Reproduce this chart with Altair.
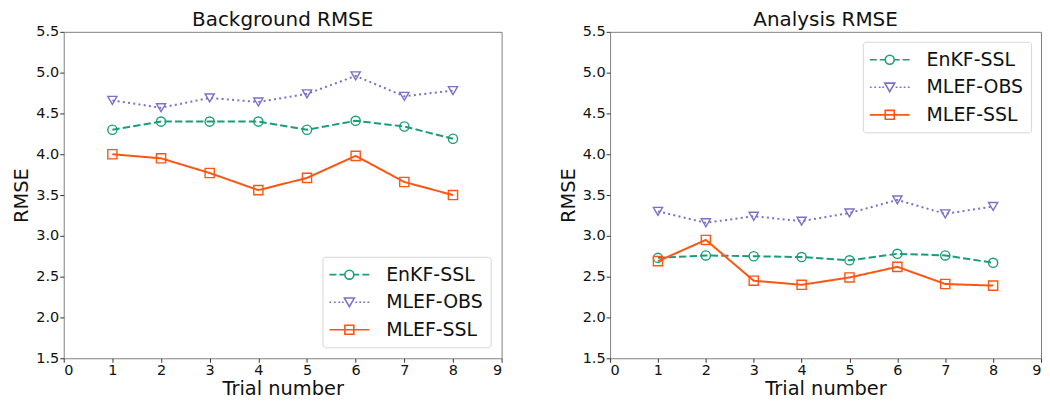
import altair as alt
import pandas as pd

trials = [1, 2, 3, 4, 5, 6, 7, 8]
series_names = ["EnKF-SSL", "MLEF-OBS", "MLEF-SSL"]

bg_enkf_ssl = [4.30, 4.40, 4.40, 4.40, 4.30, 4.41, 4.34, 4.19]
bg_mlef_obs = [4.66, 4.57, 4.69, 4.64, 4.74, 4.96, 4.71, 4.78]
bg_mlef_ssl = [4.00, 3.95, 3.77, 3.56, 3.71, 3.98, 3.66, 3.50]

an_enkf_ssl = [2.73, 2.76, 2.75, 2.74, 2.70, 2.78, 2.76, 2.67]
an_mlef_obs = [3.30, 3.16, 3.24, 3.18, 3.28, 3.44, 3.27, 3.36]
an_mlef_ssl = [2.69, 2.95, 2.45, 2.40, 2.49, 2.62, 2.41, 2.39]

x_ticks = [0, 1, 2, 3, 4, 5, 6, 7, 8, 9]
y_ticks = [1.5, 2.0, 2.5, 3.0, 3.5, 4.0, 4.5, 5.0, 5.5]

colors = ["#1b9e77", "#7a70c8", "#ff5512"]
dashes = [[7.4, 3.2], [2, 3.3], [1, 0]]
shapes = ["circle", "triangle-down", "square"]

FONT = "DejaVu Sans"


def long_df(a, b, c):
    rows = []
    for name, vals in zip(series_names, [a, b, c]):
        for t, v in zip(trials, vals):
            rows.append({"trial": t, "series": name, "rmse": v})
    return pd.DataFrame(rows)


# legend symbols: line sample + hollow marker (custom paths, unit = 10px)
circ = "M0.45,0 A0.45,0.45 0 1,1 -0.45,0 A0.45,0.45 0 1,1 0.45,0 Z"
tri = "M-0.5,-0.42 L0.5,-0.42 L0,0.45 Z"
sq = "M-0.45,-0.45 H0.45 V0.45 H-0.45 Z"
dash_line = "M-2,0 H-1.3 M-1.0,0 H-0.45 M0.45,0 H1.0 M1.3,0 H2 "
dot_line = " ".join(f"M{x:.2f},0 H{x + 0.18:.2f}" for x in [-2.0, -1.55, -1.1, -0.75, 0.6, 1.0, 1.4, 1.82])
solid_line = "M-2,0 H2 "
legend_paths = [dash_line + circ, dot_line + " " + tri, solid_line + sq]


def panel(df, title, orient, offset, width):
    color_scale = alt.Scale(domain=series_names, range=colors)
    legend = alt.Legend(
        title=None,
        orient=orient,
        offset=offset,
        labelFont=FONT,
        labelFontSize=19,
        labelColor="#111111",
        symbolSize=400,
        symbolStrokeWidth=1.6,
        symbolOpacity=1,
        symbolFillColor="transparent",
        symbolOffset=9,
        labelOffset=26,
        rowPadding=6.7,
        padding=7,
        fillColor="white",
        strokeColor="#d6d6d6",
        cornerRadius=3,
    )
    x = alt.X("trial:Q", scale=alt.Scale(domain=[0, 9], nice=False),
              axis=alt.Axis(values=x_ticks, title="Trial number", format="d"))
    y = alt.Y("rmse:Q", scale=alt.Scale(domain=[1.5, 5.5], nice=False, zero=False),
              axis=alt.Axis(values=y_ticks, title="RMSE", format=".1f"))
    base = alt.Chart(df)
    lines = base.mark_line(strokeWidth=2).encode(
        x=x, y=y,
        color=alt.Color("series:N", scale=color_scale, legend=None),
        strokeDash=alt.StrokeDash("series:N",
                                  scale=alt.Scale(domain=series_names, range=dashes),
                                  legend=None),
        detail="series:N",
    )
    points = base.mark_point(filled=False, size=85, strokeWidth=1.4, opacity=1).encode(
        x=x, y=y,
        color=alt.Color("series:N", scale=color_scale, legend=None),
        shape=alt.Shape("series:N", scale=alt.Scale(domain=series_names, range=shapes),
                        legend=None),
    )
    legend_layer = base.mark_point(filled=False, opacity=0, size=1).encode(
        x=x, y=y,
        color=alt.Color("series:N", scale=color_scale, legend=legend),
        shape=alt.Shape("series:N",
                        scale=alt.Scale(domain=series_names, range=legend_paths),
                        legend=legend),
    )
    return alt.layer(lines, points, legend_layer).resolve_scale(
        shape="independent", color="independent"
    ).properties(
        width=width, height=328,
        title=alt.TitleParams(title, font=FONT, fontSize=20, fontWeight="normal",
                              color="#111111", offset=-6),
    )


left = panel(long_df(bg_enkf_ssl, bg_mlef_obs, bg_mlef_ssl), "Background RMSE",
             "bottom-right", 11, 440)
right = panel(long_df(an_enkf_ssl, an_mlef_obs, an_mlef_ssl), "Analysis RMSE",
              "top-right", 10, 433)

chart = alt.hconcat(left, right, spacing=55).resolve_scale(
    color="independent", shape="independent", strokeDash="independent"
).properties(padding={"left": 3, "top": 0, "right": 0, "bottom": 0}).configure_view(
    stroke="#808080", strokeWidth=1
).configure_axis(
    grid=False,
    domain=False,
    tickSize=4,
    tickColor="#333333",
    tickWidth=1,
    labelFont=FONT,
    labelFontSize=14.5,
    labelColor="#111111",
    labelPadding=1,
    titleFont=FONT,
    titleFontSize=19.5,
    titleFontWeight="normal",
    titleColor="#111111",
).configure_axisX(titlePadding=3).configure_axisY(titlePadding=4)

chart.save("out.html", embed_options={"renderer": "svg", "actions": False})
